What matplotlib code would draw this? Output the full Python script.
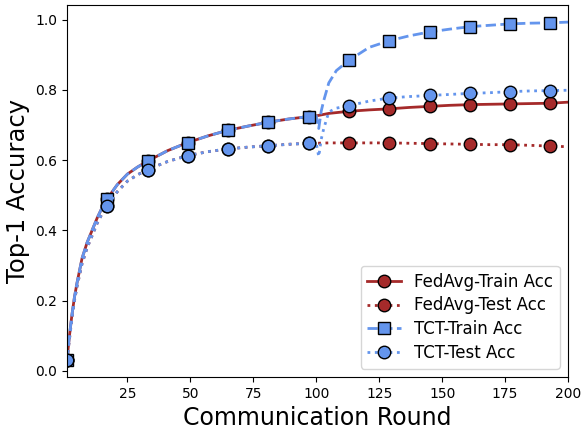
import numpy as np
import matplotlib
matplotlib.use("Agg")
import matplotlib.pyplot as plt

# --- shared warm-up phase (both methods identical up to round 100) ---
rounds_pre = [1, 2, 3, 4, 5, 7, 9, 11, 13, 15, 17, 21, 25, 29, 33, 41, 49, 57, 65, 73, 81, 89, 97, 100]
train_pre = [0.03, 0.10, 0.16, 0.21, 0.25, 0.32, 0.365, 0.40, 0.435, 0.465, 0.49, 0.53, 0.56, 0.58,
             0.597, 0.627, 0.650, 0.669, 0.685, 0.697, 0.708, 0.717, 0.724, 0.726]
test_pre = [0.03, 0.09, 0.15, 0.20, 0.24, 0.305, 0.35, 0.385, 0.42, 0.448, 0.47, 0.51, 0.54, 0.558,
            0.573, 0.596, 0.613, 0.624, 0.632, 0.637, 0.641, 0.645, 0.648, 0.648]

# --- FedAvg after round 100 ---
rounds_fed_post = [105, 113, 121, 129, 137, 145, 153, 161, 169, 177, 185, 193, 200]
fed_train_post = [0.733, 0.739, 0.743, 0.746, 0.750, 0.753, 0.756, 0.758, 0.759, 0.760, 0.761, 0.762, 0.765]
fed_test_post = [0.649, 0.649, 0.649, 0.649, 0.648, 0.647, 0.646, 0.645, 0.644, 0.644, 0.642, 0.640, 0.638]

# --- TCT after round 100 (stage 2) ---
rounds_tct_post = [101, 102, 103, 105, 108, 113, 121, 129, 137, 145, 153, 161, 169, 177, 185, 193, 200]
tct_train_post = [0.69, 0.74, 0.77, 0.82, 0.855, 0.884, 0.921, 0.940, 0.954, 0.965, 0.973, 0.980,
                  0.984, 0.988, 0.990, 0.991, 0.993]
tct_test_post = [0.61, 0.66, 0.69, 0.737, 0.748, 0.755, 0.768, 0.777, 0.781, 0.784, 0.787, 0.790,
                 0.792, 0.795, 0.797, 0.798, 0.799]

mark_rounds = list(range(1, 201, 16))

fed_rounds = rounds_pre + rounds_fed_post
tct_rounds = rounds_pre + rounds_tct_post
fed_train = train_pre + fed_train_post
fed_test = test_pre + fed_test_post
tct_train = train_pre + tct_train_post
tct_test = test_pre + tct_test_post


def marks(rounds):
    return [i for i, r in enumerate(rounds) if r in mark_rounds]


red = '#a52a2a'
blue = '#6495ed'

fig = plt.figure(figsize=(5.82, 4.34), dpi=100)
ax = fig.add_axes([0.115, 0.131, 0.861, 0.857])

ms = 9
ax.plot(fed_rounds, fed_train, color=red, lw=2, ls='-', marker='o', ms=ms, mec='black',
        markevery=marks(fed_rounds), label='FedAvg-Train Acc')
ax.plot(fed_rounds, fed_test, color=red, lw=2, ls=':', marker='o', ms=ms, mec='black',
        markevery=marks(fed_rounds), label='FedAvg-Test Acc')
ax.plot(tct_rounds, tct_train, color=blue, lw=2, ls='--', marker='s', ms=ms - 1, mec='black',
        markevery=marks(tct_rounds), label='TCT-Train Acc')
ax.plot(tct_rounds, tct_test, color=blue, lw=2, ls=':', marker='o', ms=ms, mec='black',
        markevery=marks(tct_rounds), label='TCT-Test Acc')

ax.set_xlim(1, 200)
ax.set_xticks([25, 50, 75, 100, 125, 150, 175, 200])
ax.set_yticks([0.0, 0.2, 0.4, 0.6, 0.8, 1.0])
ax.tick_params(labelsize=10)
ax.set_xlabel('Communication Round', fontsize=17)
ax.set_ylabel('Top-1 Accuracy', fontsize=17.5)
ax.legend(loc='lower right', fontsize=12, labelspacing=0.35)

fig.savefig('out.png', dpi=100)
